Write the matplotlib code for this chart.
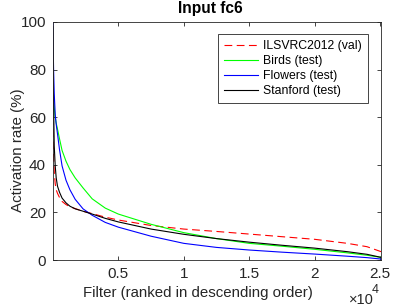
import numpy as np
import matplotlib
matplotlib.use("Agg")
import matplotlib.pyplot as plt

# filter index (ranked) and activation rate (%) per dataset
filt = [0, 25, 50, 100, 175, 250, 350, 500, 700, 1000, 1300, 1700, 2300,
        3000, 4000, 5000, 7500, 10000, 12500, 15000, 17500, 20000, 22500,
        24000, 25088]
ilsvrc = [60, 50, 44, 37, 32, 29.5, 28, 26.3, 24.6, 23.3, 22.4, 21.6, 20.5,
          19.5, 18, 16.8, 14.5, 13, 12, 10.9, 9.8, 8.7, 7.0, 5.6, 3.5]
birds = [72, 70, 68, 64, 60, 57.5, 55, 51, 46, 41.5, 38, 34.5, 30.3,
         25.7, 21.8, 19.3, 15, 11.5, 9.0, 7.0, 5.8, 4.5, 3.0, 2.0, 1.1]
flowers = [100, 88, 80, 70, 61, 57, 53, 46.5, 39.5, 33.5, 29.5, 25.5, 21.5,
           18.8, 15.8, 13.8, 10, 7, 5.3, 4.2, 3.3, 2.5, 1.6, 1.0, 0.4]
stanford = [98, 80, 65, 48, 39.5, 34.5, 31, 28.5, 26, 24, 22.6, 21.5, 20.5,
            19.3, 17.5, 16, 13, 10.8, 9.0, 7.5, 6.2, 5.0, 3.5, 2.4, 1.1]

xticks = [5000, 10000, 15000, 20000, 25000]
xticklabels = ["0.5", "1", "1.5", "2", "2.5"]
yticks = [0, 20, 40, 60, 80, 100]

plt.rcParams["font.family"] = ["Liberation Sans", "DejaVu Sans"]
gray = "#262626"

fig = plt.figure(figsize=(3.95, 3.05), dpi=100)
ax = fig.add_axes([0.134, 0.1475, 0.831, 0.7805])

ax.plot(filt, ilsvrc, color="red", lw=0.8, dashes=(7, 4), label="ILSVRC2012 (val)")
ax.plot(filt, birds, color="#00ff00", lw=0.8, label="Birds (test)")
ax.plot(filt, flowers, color="blue", lw=0.8, label="Flowers (test)")
ax.plot(filt, stanford, color="black", lw=0.8, label="Stanford (test)")

ax.set_xlim(0, 25088)
ax.set_ylim(0, 100)
ax.set_xticks(xticks)
ax.set_xticklabels(xticklabels)
ax.set_yticks(yticks)
ax.tick_params(direction="in", top=True, right=True, length=3, width=0.6,
               colors=gray, labelsize=11, pad=5)
for sp in ax.spines.values():
    sp.set_color(gray)
    sp.set_linewidth(0.6)

# title, labels and the x-axis exponent placed by hand to match the MATLAB layout
fig.text(0.532, 0.956, "Input fc6", fontsize=11.2, fontweight="bold",
         ha="center", va="baseline")
ax.set_xlabel("Filter (ranked in descending order)", fontsize=10.8, color=gray)
ax.xaxis.set_label_coords(0.442, -0.109)
ax.set_ylabel("Activation rate (%)", fontsize=10.9, color=gray)
ax.yaxis.set_label_coords(-0.085, 0.462)
ax.text(0.94, -0.166, "×10", transform=ax.transAxes, fontsize=10.5,
        color=gray, ha="center", va="center")
ax.text(0.983, -0.126, "4", transform=ax.transAxes, fontsize=9,
        color=gray, ha="center", va="center")

leg = ax.legend(loc="upper right", bbox_to_anchor=(0.96, 0.95), fontsize=8.8,
                fancybox=False, framealpha=1, edgecolor=gray, handlelength=2.8,
                borderpad=0.5, labelspacing=0.25, handletextpad=0.4,
                borderaxespad=0)
leg.get_frame().set_linewidth(0.6)

fig.savefig("out.png", dpi=100)
